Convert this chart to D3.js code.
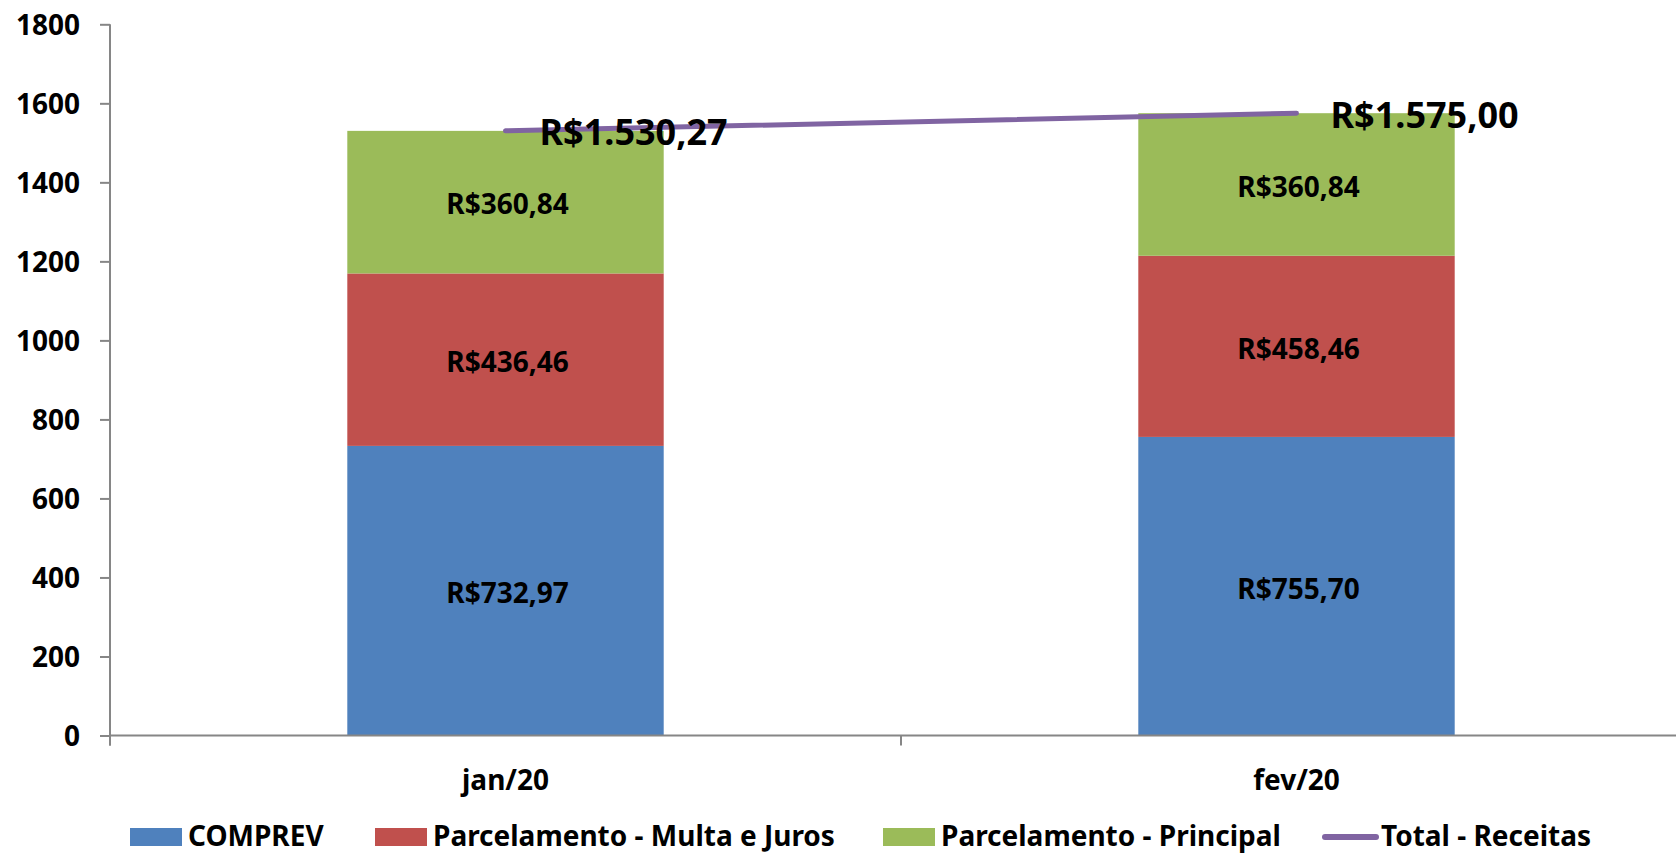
<!DOCTYPE html>
<html><head><meta charset="utf-8">
<script src="https://cdn.jsdelivr.net/npm/d3@7"></script>
<style>
body{margin:0;background:#fff;}
text{font-family:"Noto Sans","Open Sans",sans-serif;font-weight:700;fill:#000;}
</style></head>
<body><svg id="c" width="1676" height="855"></svg>
<script>
const categories = ["jan/20", "fev/20"];
const comprev = [732.97, 755.70];
const multaJuros = [436.46, 458.46];
const principal = [360.84, 360.84];
const total = [1530.27, 1575.00];
const yTicks = [0, 200, 400, 600, 800, 1000, 1200, 1400, 1600, 1800];
const seriesNames = ["COMPREV", "Parcelamento - Multa e Juros", "Parcelamento - Principal", "Total - Receitas"];
const colors = ["#4F81BD", "#C0504D", "#9BBB59", "#8064A2"];

const fmt = v => "R$" + v.toLocaleString("pt-BR", {minimumFractionDigits: 2, maximumFractionDigits: 2});

const svg = d3.select("#c");
const x = d3.scaleBand().domain(categories).range([110, 1692]).paddingInner(0).paddingOuter(0);
const y = d3.scaleLinear().domain([0, 1800]).range([735.5, 24.3]);
const axisColor = "#868686";

// Y axis
const yAxis = svg.append("g").attr("transform", "translate(110,0)")
  .call(d3.axisLeft(y).tickValues(yTicks).tickSize(10).tickPadding(20).tickFormat(d3.format("d")));
yAxis.select(".domain").remove();
yAxis.selectAll(".tick line").attr("stroke", axisColor).attr("stroke-width", 2);
yAxis.selectAll("text").attr("font-size", 28).attr("dy", "0.35em");
svg.append("line").attr("x1", 110).attr("x2", 110).attr("y1", y(1800)).attr("y2", 745.5)
  .attr("stroke", axisColor).attr("stroke-width", 2);

// stacked bars
const stackData = categories.map((c, i) => ({cat: c, s0: comprev[i], s1: multaJuros[i], s2: principal[i]}));
const stack = d3.stack().keys(["s0", "s1", "s2"])(stackData);
const bw = x.bandwidth() * 0.4;
stack.forEach((layer, li) => {
  const g = svg.append("g");
  g.selectAll("rect").data(layer).join("rect")
    .attr("x", d => x(d.data.cat) + x.bandwidth() / 2 - bw / 2)
    .attr("width", bw)
    .attr("y", d => y(d[1]))
    .attr("height", d => y(d[0]) - y(d[1]))
    .attr("fill", colors[li]);
  g.selectAll("text").data(layer).join("text")
    .attr("x", d => x(d.data.cat) + x.bandwidth() / 2 + 2)
    .attr("y", d => y((d[0] + d[1]) / 2))
    .attr("dy", "0.44em")
    .attr("text-anchor", "middle")
    .attr("font-size", 28)
    .text(d => fmt(d[1] - d[0]));
});

// X axis
const xAxis = svg.append("g").attr("transform", "translate(0,735.5)");
xAxis.append("line").attr("x1", 110).attr("x2", 1692).attr("stroke", axisColor).attr("stroke-width", 2);
const bounds = [110, x(categories[1]), 1692];
xAxis.selectAll(".t").data(bounds).join("line").attr("class", "t")
  .attr("x1", d => d).attr("x2", d => d).attr("y1", 0).attr("y2", 10)
  .attr("stroke", axisColor).attr("stroke-width", 2);
xAxis.selectAll("text").data(categories).join("text")
  .attr("x", d => x(d) + x.bandwidth() / 2)
  .attr("y", 45).attr("dy", "0.35em")
  .attr("text-anchor", "middle").attr("font-size", 28).text(d => d);

// Total line
const pts = categories.map((c, i) => [x(c) + x.bandwidth() / 2, y(total[i])]);
svg.append("path").attr("d", d3.line()(pts)).attr("fill", "none")
  .attr("stroke", colors[3]).attr("stroke-width", 5).attr("stroke-linecap", "round");
svg.selectAll(".tl").data(categories).join("text").attr("class", "tl")
  .attr("x", (d, i) => pts[i][0] + 34)
  .attr("y", (d, i) => pts[i][1])
  .attr("dy", "0.4em").attr("font-size", 36)
  .text((d, i) => fmt(total[i]));

// Legend
const legendX = [130, 375, 883, 1323];
const legendY = 837;
const lg = svg.append("g");
seriesNames.forEach((n, i) => {
  if (i < 3) {
    lg.append("rect").attr("x", legendX[i]).attr("y", legendY - 9).attr("width", 52).attr("height", 18).attr("fill", colors[i]);
  } else {
    lg.append("line").attr("x1", legendX[i] + 2).attr("x2", legendX[i] + 53).attr("y1", legendY).attr("y2", legendY)
      .attr("stroke", colors[i]).attr("stroke-width", 6).attr("stroke-linecap", "round");
  }
  lg.append("text").attr("x", legendX[i] + 58).attr("y", legendY).attr("dy", "0.33em")
    .attr("font-size", 28).text(n);
});
</script></body></html>
